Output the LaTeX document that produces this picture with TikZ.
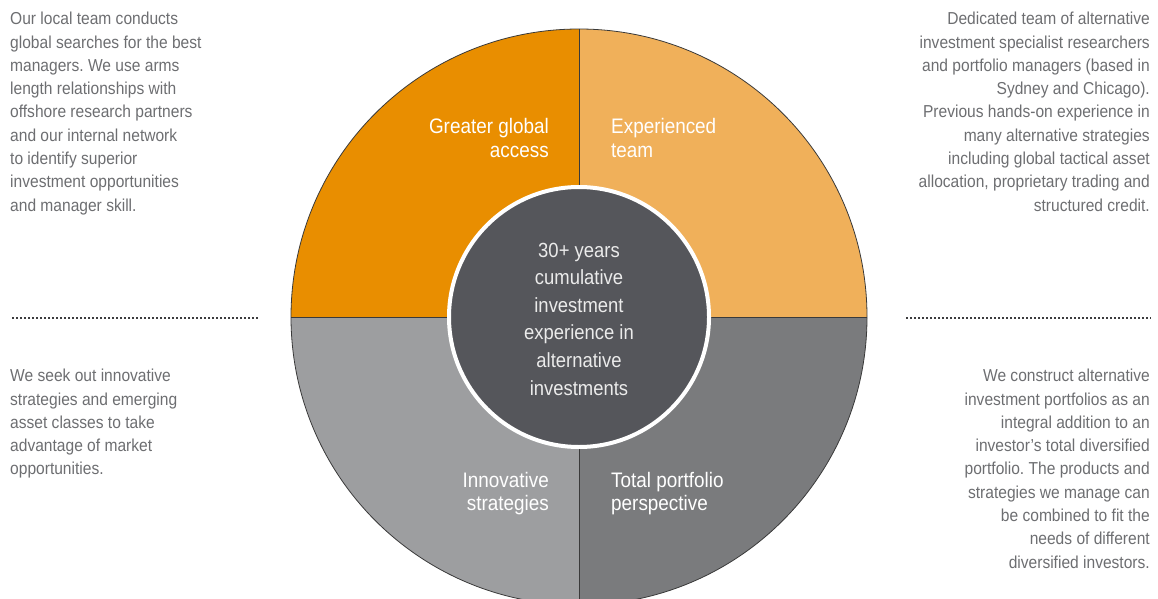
\documentclass[tikz,border=0pt]{standalone}
\usepackage{fontspec}
\setmainfont[FakeStretch=0.9]{Liberation Sans}
\definecolor{orgD}{HTML}{E98E00}
\definecolor{orgL}{HTML}{F0B05A}
\definecolor{gryL}{HTML}{9D9EA0}
\definecolor{gryD}{HTML}{7A7B7D}
\definecolor{hubC}{HTML}{55565B}
\definecolor{txtC}{HTML}{6D6E71}
\definecolor{lineC}{HTML}{3A3A3A}
\definecolor{dotC}{HTML}{3C3C3E}
\tikzset{
  sidetext/.style={inner sep=0pt, text=txtC, font=\fontsize{17.3}{23.3}\selectfont},
  quadlabel/.style={inner sep=0pt, text=white, font=\fontsize{21}{23.5}\selectfont},
  hubtext/.style={inner sep=0pt, text=white!92!black, font=\fontsize{20.5}{27.6}\selectfont, align=center},
  divider/.style={draw=lineC, line width=0.8pt},
  dotline/.style={draw=dotC, line width=2pt, dash pattern=on 2.2pt off 1.8pt}
}
\begin{document}
\frenchspacing
\begin{tikzpicture}[x=1pt,y=-1pt]
\useasboundingbox (0,0) rectangle (1158,599);
\clip (0,0) rectangle (1158,599);
\coordinate (c) at (579,317);
\def\R{288}
% quadrants (y axis points down: 270 = up)
\fill[orgD] (c) -- ++(180:\R) arc[start angle=180,end angle=270,radius=\R] -- cycle;
\fill[orgL] (c) -- ++(270:\R) arc[start angle=270,end angle=360,radius=\R] -- cycle;
\fill[gryL] (c) -- ++(180:\R) arc[start angle=180,end angle=90,radius=\R] -- cycle;
\fill[gryD] (c) -- ++(90:\R) arc[start angle=90,end angle=0,radius=\R] -- cycle;
\draw[divider] (c) circle[radius=\R];
\coordinate (top) at (579,29);
\coordinate (bot) at (579,605);
\coordinate (lft) at (291,317);
\coordinate (rgt) at (867,317);
\draw[divider] (top) -- (bot);
\draw[divider] (lft) -- (rgt);
% hub
\node[circle, fill=hubC, draw=white, line width=4pt, minimum size=260pt, inner sep=0pt] (hub) at (c) {};
\node[hubtext] (hubt) at (579,319) {30+ years\\cumulative\\investment\\experience in\\alternative\\investments};
% quadrant labels
\node[quadlabel, anchor=east, align=right] (q1) at (549,138) {Greater global\\access};
\node[quadlabel, anchor=west, align=left] (q2) at (611,138) {Experienced\\team};
\node[quadlabel, anchor=east, align=right] (q3) at (549,493.5) {Innovative\\strategies};
\node[quadlabel, anchor=west, align=left] (q4) at (611,493.5) {Total portfolio\\perspective};
% side texts
\node[sidetext, anchor=north west, align=left] (t1) at (10,12) {Our local team conducts\\global searches for the best\\managers. We use arms\\length relationships with\\offshore research partners\\and our internal network\\to identify superior\\investment opportunities\\and manager skill.};
\node[sidetext, anchor=north east, align=right] (t2) at (1150,12) {Dedicated team of alternative\\investment specialist researchers\\and portfolio managers (based in\\Sydney and Chicago).\\Previous hands-on experience in\\many alternative strategies\\including global tactical asset\\allocation, proprietary trading and\\structured credit.};
\node[sidetext, anchor=north west, align=left] (t3) at (10,369) {We seek out innovative\\strategies and emerging\\asset classes to take\\advantage of market\\opportunities.};
\node[sidetext, anchor=north east, align=right] (t4) at (1150,369) {We construct alternative\\investment portfolios as an\\integral addition to an\\investor’s total diversified\\portfolio. The products and\\strategies we manage can\\be combined to fit the\\needs of different\\diversified investors.};
% dotted separators
\coordinate (d1a) at (12,318);
\coordinate (d1b) at (258,318);
\coordinate (d2a) at (906,318);
\coordinate (d2b) at (1151,318);
\draw[dotline] (d1a) -- (d1b);
\draw[dotline] (d2a) -- (d2b);
\end{tikzpicture}
\end{document}
